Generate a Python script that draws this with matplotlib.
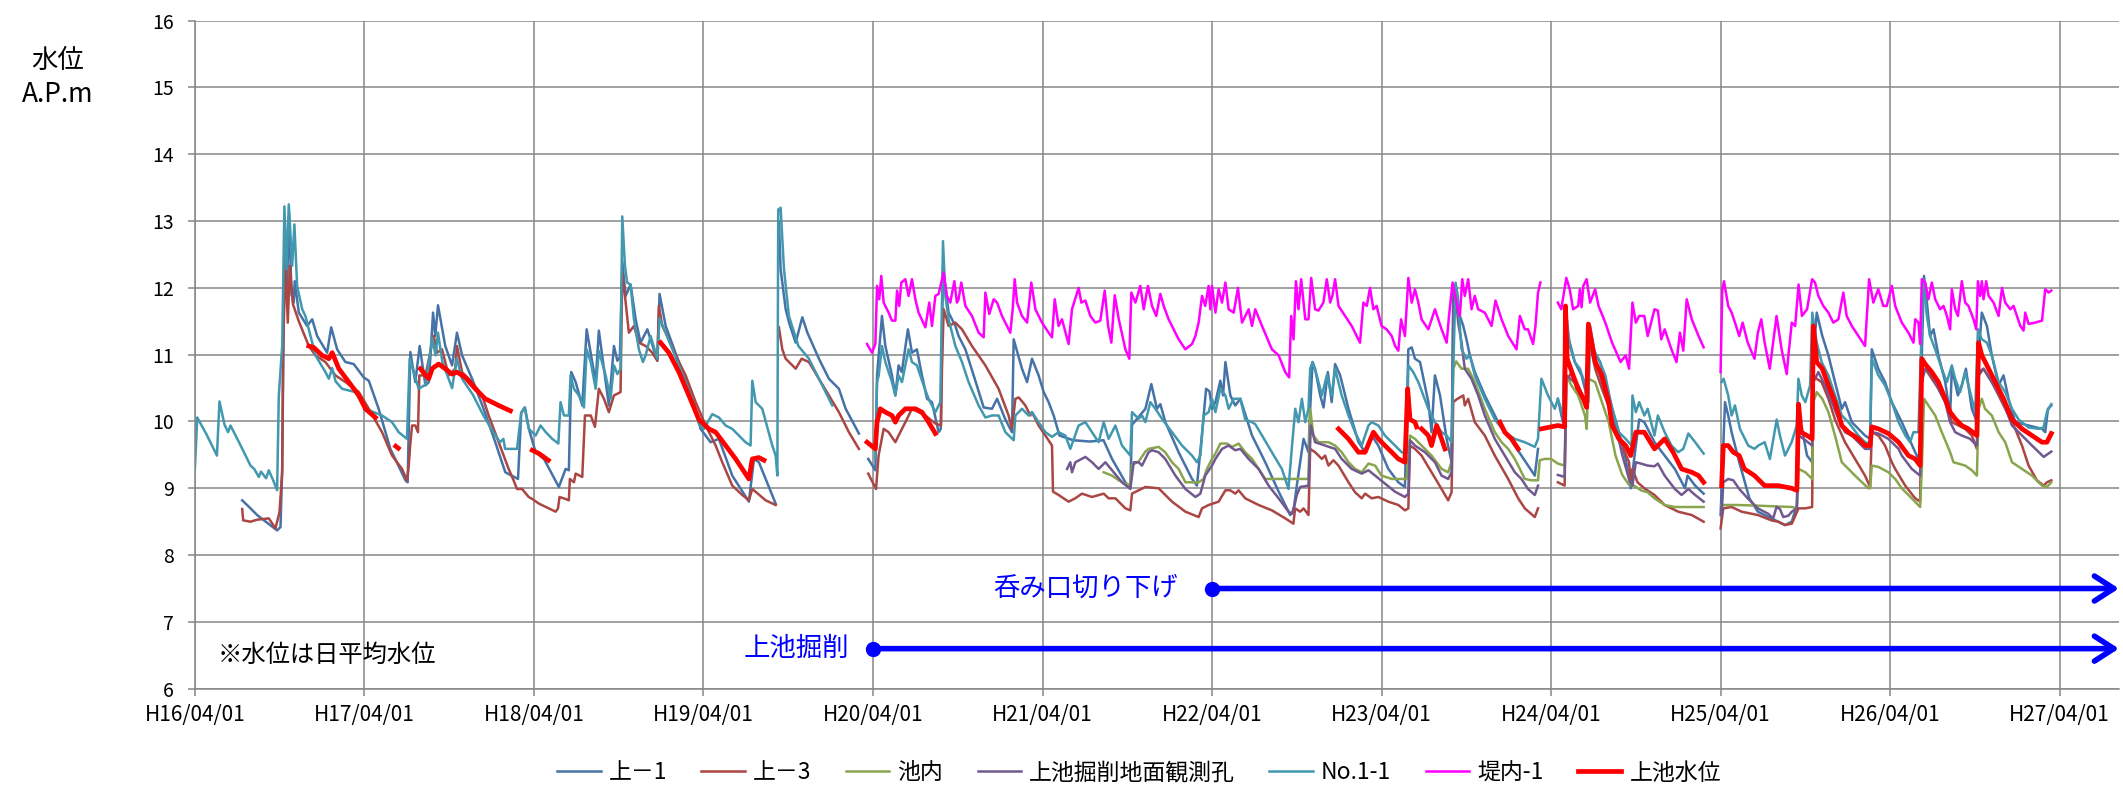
import numpy as np
import matplotlib
matplotlib.use('Agg')
import matplotlib.pyplot as plt
from matplotlib import rcParams

rcParams['font.family'] = ['Noto Sans CJK JP', 'DejaVu Sans']
rcParams['axes.unicode_minus'] = False

# time = years since H16/04/01, value = water level (A.P.m); None = gap
year_labels = ['H16/04/01', 'H17/04/01', 'H18/04/01', 'H19/04/01', 'H20/04/01', 'H21/04/01',
               'H22/04/01', 'H23/04/01', 'H24/04/01', 'H25/04/01', 'H26/04/01', 'H27/04/01']

jo1 = [(0.279, 8.82), (0.328, 8.70), (0.367, 8.60), (0.485, 8.37), (0.505, 8.42), (0.515, 9.30),
       (0.522, 11.0), (0.53, 13.0), (0.542, 11.9), (0.556, 13.1), (0.57, 11.9), (0.583, 11.78),
       (0.589, 12.10), (0.613, 11.63), (0.662, 11.43), (0.692, 11.53), (0.721, 11.28), (0.78, 11.03),
       (0.804, 11.41), (0.839, 11.08), (0.888, 10.89), (0.937, 10.86), (0.996, 10.66), (1.026, 10.61),
       (1.084, 10.19), (1.153, 9.59), (1.242, 9.12), (1.255, 9.09), (1.271, 11.04), (1.30, 10.59),
       (1.326, 11.13), (1.36, 10.54), (1.38, 10.59), (1.405, 11.63), (1.418, 11.28), (1.434, 11.74),
       (1.477, 11.13), (1.517, 10.84), (1.546, 11.33), (1.576, 10.99), (1.635, 10.64), (1.703, 10.19),
       (1.772, 9.69), (1.831, 9.24), (1.906, 9.14), (1.925, 10.13), (1.947, 10.21), (1.97, 9.89),
       (2.01, 9.54), (2.059, 9.44), (2.147, 9.02), (2.187, 9.29), (2.206, 9.27), (2.22, 10.74),
       (2.246, 10.59), (2.285, 10.24), (2.311, 11.38), (2.364, 10.59), (2.383, 11.36), (2.442, 10.24),
       (2.472, 11.13), (2.492, 10.91), (2.507, 10.96), (2.521, 12.4), (2.541, 11.88), (2.57, 12.05),
       (2.60, 11.53), (2.629, 11.18), (2.669, 11.38), (2.728, 10.91), (2.741, 11.91), (2.777, 11.43),
       (2.855, 10.89), (2.934, 10.39), (2.983, 9.89), (3.042, 9.69), (3.091, 9.74), (3.17, 9.19),
       (3.268, 8.80), (3.298, 9.44), (3.327, 9.39), (3.426, 8.77), None,
       (3.445, 13.0), (3.455, 12.28), (3.485, 11.68), (3.505, 11.48), (3.544, 11.18), (3.583, 11.56),
       (3.613, 11.33), (3.681, 10.94), (3.74, 10.64), (3.799, 10.49), (3.839, 10.19), (3.917, 9.82), None,
       (3.972, 9.44), (4.014, 9.27), (4.024, 10.69), (4.053, 11.58), (4.073, 11.13), (4.112, 10.69),
       (4.132, 10.39), (4.151, 10.84), (4.17, 10.74), (4.206, 11.38), (4.23, 11.03), (4.259, 11.08),
       (4.289, 10.69), (4.319, 10.34), (4.348, 10.29), (4.387, 9.84), (4.40, 9.89), (4.413, 12.3),
       (4.446, 11.63), (4.486, 11.43), (4.505, 11.28), (4.545, 11.08), (4.594, 10.69), (4.653, 10.21),
       (4.702, 10.19), (4.732, 10.34), (4.781, 10.03), (4.82, 9.84), (4.83, 11.23), (4.879, 10.79),
       (4.909, 10.59), (4.938, 10.94), (4.977, 10.69), (5.007, 10.44), (5.036, 10.29), (5.066, 10.09),
       (5.10, 9.79), (5.18, 9.72), (5.28, 9.70), (5.36, 9.72), (5.41, 9.44), (5.489, 9.09),
       (5.518, 9.00), (5.528, 9.95), (5.607, 10.19), (5.642, 10.56), (5.675, 10.19), (5.695, 10.26),
       (5.725, 9.99), (5.803, 9.54), (5.882, 9.14), (5.911, 9.04), (5.94, 9.79), (5.965, 10.49),
       (5.985, 10.45), (6.0, 10.19), (6.02, 10.29), (6.049, 10.61), (6.065, 10.39), (6.079, 10.89),
       (6.108, 10.39), (6.137, 10.24), (6.167, 10.34), (6.236, 9.79), (6.314, 9.39), (6.393, 8.95),
       (6.461, 8.60), (6.48, 8.65), (6.50, 9.04), (6.54, 9.74), (6.569, 9.54), (6.579, 10.2),
       (6.593, 10.89), (6.608, 10.79), (6.638, 10.39), (6.658, 10.21), (6.683, 10.74), (6.706, 10.29),
       (6.726, 10.86), (6.756, 10.69), (6.805, 10.19), (6.864, 9.69), (6.903, 9.54), (6.942, 9.79),
       (6.981, 9.64), (7.04, 9.29), (7.099, 9.09), (7.138, 9.02), (7.158, 11.08), (7.178, 11.11),
       (7.197, 10.94), (7.227, 10.89), (7.276, 10.29), (7.295, 9.84), (7.315, 10.69), (7.345, 10.39),
       (7.384, 9.74), (7.413, 9.39), (7.423, 12.05), (7.442, 12.0), (7.462, 11.58), (7.482, 11.43),
       (7.501, 11.23), (7.521, 10.99), (7.55, 10.74), (7.609, 10.39), (7.688, 9.99), (7.747, 9.79),
       (7.825, 9.49), (7.904, 9.19), (7.923, 9.59), None,
       (8.04, 10.34), (8.07, 9.99), (8.085, 11.68), (8.10, 11.28), (8.14, 10.89), (8.18, 10.69),
       (8.22, 10.29), (8.23, 11.43), (8.26, 10.99), (8.29, 10.89), (8.34, 10.39), (8.40, 9.84),
       (8.44, 9.44), (8.47, 9.00), (8.49, 9.44), (8.52, 10.03), (8.55, 9.99), (8.61, 9.69),
       (8.67, 9.49), (8.73, 9.29), (8.79, 9.00), (8.805, 9.19), (8.85, 9.04), (8.90, 8.92), None,
       (9.0, 8.60), (9.026, 10.29), (9.045, 10.09), (9.065, 9.84), (9.11, 9.39), (9.17, 8.85),
       (9.22, 8.65), (9.30, 8.55), (9.34, 8.50), (9.38, 8.45), (9.42, 8.50), (9.45, 8.75),
       (9.46, 9.79), (9.48, 9.89), (9.51, 9.49), (9.54, 9.39), (9.547, 10.94), (9.567, 11.63),
       (9.60, 11.28), (9.636, 10.99), (9.675, 10.59), (9.715, 10.19), (9.734, 10.29), (9.774, 9.99),
       (9.852, 9.79), (9.882, 9.74), (9.892, 11.08), (9.93, 10.79), (9.97, 10.59), (10.01, 10.29),
       (10.069, 9.99), (10.148, 9.54), (10.177, 9.39), (10.187, 10.99), (10.20, 12.18), (10.217, 11.78),
       (10.236, 11.28), (10.256, 11.38), (10.285, 10.99), (10.325, 10.59), (10.354, 10.09), (10.364, 10.79),
       (10.40, 10.39), (10.423, 10.54), (10.447, 10.79), (10.482, 10.19), (10.512, 9.99), (10.522, 11.0),
       (10.541, 11.63), (10.571, 11.43), (10.60, 10.99), (10.64, 10.54), (10.669, 10.69), (10.699, 10.34),
       (10.738, 9.99), (10.817, 9.94), (10.896, 9.89), (10.915, 9.84), (10.931, 10.19), (10.951, 10.24)]

jo3 = [(0.279, 8.69), (0.285, 8.52), (0.328, 8.50), (0.367, 8.53), (0.436, 8.55), (0.475, 8.40),
       (0.499, 8.64), (0.515, 9.24), (0.52, 11.03), (0.534, 12.45), (0.548, 11.48), (0.56, 12.33),
       (0.578, 11.76), (0.613, 11.5), (0.672, 11.13), (0.711, 10.99), (0.77, 10.89), (0.829, 10.69),
       (0.888, 10.59), (0.967, 10.44), (1.026, 10.19), (1.104, 9.84), (1.163, 9.49), (1.222, 9.29),
       (1.251, 9.12), (1.26, 9.29), (1.27, 9.64), (1.281, 9.94), (1.30, 9.94), (1.316, 9.84),
       (1.324, 10.69), (1.36, 10.69), (1.409, 11.28), (1.428, 11.03), (1.458, 11.08), (1.497, 10.69),
       (1.536, 10.79), (1.546, 11.13), (1.576, 10.74), (1.635, 10.59), (1.694, 10.39), (1.733, 10.09),
       (1.792, 9.69), (1.851, 9.29), (1.88, 9.12), (1.90, 8.99), (1.93, 8.99), (1.969, 8.87),
       (1.99, 8.84), (2.03, 8.77), (2.088, 8.70), (2.128, 8.65), (2.142, 8.70), (2.151, 8.87),
       (2.187, 8.84), (2.206, 8.82), (2.212, 9.14), (2.236, 9.09), (2.246, 9.22), (2.285, 9.17),
       (2.301, 10.09), (2.335, 10.09), (2.36, 9.92), (2.383, 10.49), (2.413, 10.34), (2.442, 10.14),
       (2.472, 10.39), (2.511, 10.44), (2.521, 12.23), (2.537, 11.88), (2.56, 11.33), (2.59, 11.43),
       (2.619, 11.18), (2.659, 11.13), (2.698, 11.03), (2.728, 10.91), (2.737, 11.73), (2.757, 11.43),
       (2.777, 11.33), (2.836, 10.99), (2.895, 10.69), (2.954, 10.29), (3.013, 9.94), (3.072, 9.64),
       (3.111, 9.39), (3.17, 9.04), (3.229, 8.90), (3.268, 8.82), (3.288, 8.99), (3.33, 8.90),
       (3.367, 8.82), (3.426, 8.75), None,
       (3.445, 11.41), (3.465, 11.08), (3.485, 10.94), (3.544, 10.79), (3.579, 10.94), (3.622, 10.89),
       (3.681, 10.64), (3.74, 10.39), (3.799, 10.14), (3.858, 9.84), (3.917, 9.59), None,
       (3.972, 9.22), (4.018, 8.99), (4.033, 9.49), (4.063, 9.89), (4.092, 9.84), (4.132, 9.69),
       (4.151, 9.79), (4.191, 9.99), (4.23, 10.19), (4.309, 10.09), (4.368, 9.97), (4.401, 9.94),
       (4.407, 10.79), (4.417, 11.68), (4.446, 11.43), (4.486, 11.48), (4.525, 11.38), (4.584, 11.13),
       (4.663, 10.84), (4.741, 10.49), (4.80, 10.09), (4.82, 9.89), (4.84, 10.34), (4.86, 10.36),
       (4.899, 10.24), (4.928, 10.09), (4.938, 10.14), (4.977, 9.94), (5.017, 9.79), (5.056, 9.64),
       (5.062, 8.95), (5.095, 8.90), (5.154, 8.80), (5.193, 8.85), (5.233, 8.92), (5.292, 8.87),
       (5.361, 8.92), (5.39, 8.85), (5.43, 8.85), (5.489, 8.70), (5.518, 8.67), (5.528, 8.92),
       (5.567, 8.97), (5.607, 9.02), (5.685, 9.00), (5.764, 8.80), (5.843, 8.65), (5.921, 8.57),
       (5.941, 8.70), (5.98, 8.75), (6.039, 8.80), (6.079, 8.97), (6.108, 8.97), (6.137, 8.92),
       (6.157, 8.97), (6.196, 8.85), (6.275, 8.75), (6.353, 8.67), (6.432, 8.55), (6.48, 8.47),
       (6.49, 8.70), (6.52, 8.65), (6.54, 8.70), (6.569, 8.60), (6.579, 9.59), (6.608, 9.54),
       (6.648, 9.44), (6.667, 9.49), (6.687, 9.34), (6.716, 9.42), (6.746, 9.34), (6.805, 9.09),
       (6.844, 8.94), (6.883, 8.85), (6.903, 8.92), (6.942, 8.85), (6.981, 8.87), (7.04, 8.80),
       (7.099, 8.75), (7.138, 8.67), (7.158, 8.70), (7.168, 9.64), (7.197, 9.59), (7.236, 9.49),
       (7.295, 9.24), (7.354, 8.99), (7.393, 8.82), (7.413, 8.94), (7.423, 10.29), (7.442, 10.33),
       (7.482, 10.39), (7.491, 10.24), (7.511, 10.34), (7.55, 9.99), (7.609, 9.79), (7.668, 9.49),
       (7.747, 9.14), (7.806, 8.85), (7.845, 8.70), (7.904, 8.57), (7.923, 8.70), None,
       (8.04, 9.09), (8.08, 9.04), (8.09, 10.59), (8.12, 10.74), (8.15, 10.49), (8.21, 10.29),
       (8.225, 11.23), (8.26, 10.79), (8.30, 10.49), (8.36, 10.09), (8.42, 9.64), (8.46, 9.39),
       (8.47, 9.09), (8.48, 9.29), (8.51, 9.09), (8.55, 9.00), (8.61, 8.90), (8.67, 8.75),
       (8.75, 8.65), (8.83, 8.60), (8.90, 8.50), None,
       (9.0, 8.40), (9.016, 8.70), (9.065, 8.72), (9.124, 8.65), (9.22, 8.60), (9.30, 8.52),
       (9.34, 8.50), (9.38, 8.45), (9.42, 8.47), (9.46, 8.70), (9.50, 8.70), (9.54, 8.72),
       (9.547, 10.69), (9.567, 10.64), (9.596, 10.59), (9.636, 10.34), (9.675, 10.03), (9.734, 9.69),
       (9.793, 9.44), (9.852, 9.19), (9.882, 9.02), (9.892, 9.84), (9.931, 9.79), (9.97, 9.64),
       (10.01, 9.39), (10.03, 9.29), (10.089, 9.04), (10.148, 8.85), (10.177, 8.80), (10.187, 10.69),
       (10.207, 10.79), (10.246, 10.64), (10.285, 10.49), (10.325, 10.29), (10.364, 9.99), (10.403, 9.94),
       (10.443, 9.89), (10.482, 9.79), (10.512, 9.59), (10.522, 10.74), (10.551, 10.79), (10.60, 10.59),
       (10.64, 10.39), (10.679, 10.19), (10.738, 9.89), (10.778, 9.64), (10.817, 9.34), (10.866, 9.12),
       (10.906, 9.04), (10.925, 9.09), (10.951, 9.12)]

ikenai = [(5.361, 9.24), (5.41, 9.19), (5.45, 9.12), (5.489, 9.07), (5.518, 9.05), (5.528, 9.35),
          (5.567, 9.40), (5.607, 9.55), (5.626, 9.59), (5.685, 9.62), (5.724, 9.54), (5.764, 9.39),
          (5.803, 9.29), (5.843, 9.09), (5.882, 9.09), (5.921, 9.09), (5.95, 9.14), (5.97, 9.29),
          (6.0, 9.44), (6.02, 9.52), (6.049, 9.67), (6.088, 9.67), (6.118, 9.62), (6.157, 9.67),
          (6.196, 9.54), (6.236, 9.44), (6.275, 9.29), (6.314, 9.14), (6.373, 9.14), (6.471, 9.14),
          (6.569, 9.14), (6.579, 10.19), (6.598, 9.79), (6.628, 9.69), (6.687, 9.69), (6.726, 9.64),
          (6.765, 9.54), (6.805, 9.39), (6.844, 9.29), (6.883, 9.24), (6.923, 9.37), (6.962, 9.34),
          (7.0, 9.19), (7.06, 9.14), (7.148, 9.14), (7.168, 9.79), (7.197, 9.74), (7.236, 9.64),
          (7.295, 9.49), (7.354, 9.29), (7.393, 9.24), (7.413, 9.39), (7.423, 10.79), (7.44, 10.9),
          (7.472, 10.79), (7.511, 10.79), (7.55, 10.59), (7.609, 10.19), (7.668, 9.84), (7.708, 9.69),
          (7.747, 9.59), (7.786, 9.44), (7.816, 9.29), (7.845, 9.14), (7.884, 9.12), (7.923, 9.12),
          (7.933, 9.42), (7.962, 9.44), (8.0, 9.44), (8.04, 9.37), (8.08, 9.34), (8.09, 10.69),
          (8.12, 10.54), (8.16, 10.39), (8.20, 10.09), (8.21, 9.89), (8.22, 10.64), (8.26, 10.59),
          (8.30, 10.29), (8.34, 9.99), (8.38, 9.49), (8.42, 9.2), (8.46, 9.05), (8.49, 9.04),
          (8.53, 8.97), (8.57, 8.94), (8.61, 8.85), (8.67, 8.75), (8.73, 8.72), (8.79, 8.72),
          (8.90, 8.72), None,
          (9.006, 8.75), (9.1, 8.75), (9.22, 8.74), (9.32, 8.73), (9.42, 8.72), (9.45, 8.70),
          (9.46, 9.29), (9.50, 9.24), (9.54, 9.14), (9.547, 10.29), (9.567, 10.44), (9.60, 10.34),
          (9.636, 10.14), (9.675, 9.79), (9.715, 9.39), (9.754, 9.29), (9.813, 9.14), (9.872, 9.0),
          (9.882, 9.0), (9.892, 9.34), (9.931, 9.32), (9.99, 9.24), (10.03, 9.14), (10.069, 9.0),
          (10.128, 8.85), (10.177, 8.72), (10.187, 9.29), (10.20, 10.34), (10.226, 10.24), (10.266, 10.09),
          (10.305, 9.84), (10.354, 9.54), (10.374, 9.39), (10.443, 9.34), (10.482, 9.27), (10.512, 9.19),
          (10.522, 10.19), (10.541, 10.34), (10.56, 10.19), (10.60, 10.09), (10.64, 9.84), (10.679, 9.69),
          (10.719, 9.39), (10.778, 9.29), (10.837, 9.19), (10.896, 9.04), (10.925, 9.02), (10.951, 9.09)]

kussaku = [(5.145, 9.29), (5.164, 9.39), (5.174, 9.24), (5.194, 9.39), (5.253, 9.47), (5.292, 9.39),
           (5.331, 9.29), (5.371, 9.39), (5.41, 9.27), (5.469, 9.09), (5.518, 8.99), (5.538, 9.39),
           (5.567, 9.39), (5.587, 9.34), (5.626, 9.54), (5.646, 9.57), (5.685, 9.54), (5.724, 9.44),
           (5.784, 9.19), (5.843, 8.99), (5.902, 8.87), (5.931, 8.92), (5.96, 9.19), (6.0, 9.34),
           (6.02, 9.44), (6.059, 9.59), (6.098, 9.64), (6.137, 9.57), (6.167, 9.59), (6.216, 9.44),
           (6.275, 9.29), (6.334, 9.04), (6.393, 8.85), (6.451, 8.65), (6.471, 8.62), (6.487, 8.75),
           (6.50, 8.90), (6.52, 9.02), (6.569, 9.04), (6.583, 9.94), (6.608, 9.69), (6.667, 9.64),
           (6.726, 9.59), (6.765, 9.44), (6.824, 9.29), (6.883, 9.22), (6.923, 9.27), (6.962, 9.19),
           (7.02, 9.07), (7.079, 8.95), (7.138, 8.87), (7.158, 8.92), (7.168, 9.72), (7.197, 9.64),
           (7.256, 9.54), (7.315, 9.39), (7.354, 9.19), (7.393, 9.14), (7.413, 9.24), (7.423, 11.48),
           (7.433, 12.03), (7.452, 11.48), (7.472, 11.18), (7.491, 10.79), (7.53, 10.64), (7.57, 10.39),
           (7.609, 10.09), (7.668, 9.74), (7.727, 9.49), (7.786, 9.24), (7.825, 9.14), (7.864, 8.99),
           (7.904, 8.90), (7.923, 9.04), None,
           (8.04, 9.2), (8.08, 9.17), (8.09, 10.69), (8.16, 10.54), (8.21, 10.24), (8.225, 11.28),
           (8.30, 10.59), (8.38, 9.94), (8.42, 9.5), (8.46, 9.14), (8.48, 9.04), (8.50, 9.39),
           (8.53, 9.37), (8.57, 9.34), (8.61, 9.33), (8.63, 9.37), (8.67, 9.19), (8.73, 8.99),
           (8.77, 8.90), (8.81, 8.99), (8.85, 8.90), (8.90, 8.80), None,
           (9.006, 8.60), (9.016, 9.09), (9.045, 9.14), (9.075, 9.12), (9.11, 8.99), (9.16, 8.85),
           (9.22, 8.70), (9.28, 8.62), (9.31, 8.55), (9.33, 8.72), (9.35, 8.69), (9.37, 8.57),
           (9.40, 8.59), (9.42, 8.65), (9.45, 8.70), (9.46, 9.79), (9.49, 9.74), (9.54, 9.64),
           (9.547, 10.59), (9.577, 10.74), (9.616, 10.54), (9.656, 10.29), (9.695, 10.04), (9.734, 9.84),
           (9.774, 9.79), (9.813, 9.69), (9.852, 9.59), (9.882, 9.59), (9.892, 9.84), (9.931, 9.82),
           (9.99, 9.74), (10.05, 9.59), (10.069, 9.49), (10.128, 9.29), (10.177, 9.19), (10.187, 10.59),
           (10.207, 10.79), (10.246, 10.69), (10.285, 10.49), (10.325, 10.29), (10.354, 9.99), (10.384, 9.84),
           (10.423, 9.79), (10.472, 9.74), (10.512, 9.64), (10.522, 10.69), (10.551, 10.79), (10.60, 10.59),
           (10.66, 10.34), (10.719, 9.94), (10.778, 9.79), (10.837, 9.64), (10.906, 9.47), (10.951, 9.55)]

no11 = [(0.0, 9.30), (0.014, 10.06), (0.07, 9.80), (0.13, 9.49), (0.145, 10.30), (0.175, 9.95),
        (0.196, 9.84), (0.21, 9.94), (0.27, 9.64), (0.328, 9.34), (0.35, 9.29), (0.377, 9.17),
        (0.39, 9.25), (0.42, 9.15), (0.436, 9.27), (0.465, 9.10), (0.485, 8.97), (0.495, 10.39),
        (0.515, 11.13), (0.528, 13.22), (0.54, 12.28), (0.554, 13.25), (0.574, 12.33), (0.587, 12.95),
        (0.603, 12.03), (0.633, 11.68), (0.652, 11.58), (0.711, 10.99), (0.77, 10.74), (0.79, 10.64),
        (0.81, 10.80), (0.83, 10.60), (0.868, 10.49), (0.947, 10.44), (1.006, 10.19), (1.104, 10.09),
        (1.163, 9.99), (1.202, 9.84), (1.251, 9.74), (1.267, 10.94), (1.285, 10.79), (1.32, 10.49),
        (1.36, 10.55), (1.40, 11.25), (1.42, 10.99), (1.434, 11.33), (1.46, 10.89), (1.517, 10.50),
        (1.545, 10.94), (1.576, 10.64), (1.64, 10.40), (1.70, 10.10), (1.76, 9.84), (1.80, 9.69),
        (1.82, 9.74), (1.83, 9.59), (1.90, 9.59), (1.925, 10.13), (1.945, 10.21), (1.97, 9.89),
        (2.01, 9.79), (2.039, 9.94), (2.07, 9.84), (2.108, 9.74), (2.144, 9.67), (2.157, 10.29),
        (2.177, 10.09), (2.206, 10.09), (2.216, 10.69), (2.236, 10.49), (2.265, 10.39), (2.295, 10.21),
        (2.311, 11.08), (2.335, 10.89), (2.364, 10.49), (2.383, 11.06), (2.423, 10.69), (2.452, 10.34),
        (2.472, 10.84), (2.492, 10.71), (2.511, 10.79), (2.521, 13.07), (2.537, 12.33), (2.55, 12.08),
        (2.57, 12.05), (2.59, 11.53), (2.619, 11.08), (2.643, 10.89), (2.659, 10.99), (2.688, 11.28),
        (2.728, 10.94), (2.741, 11.55), (2.777, 11.33), (2.855, 10.84), (2.934, 10.34), (2.973, 9.96),
        (3.003, 9.89), (3.052, 10.11), (3.091, 10.06), (3.131, 9.94), (3.17, 9.89), (3.209, 9.79),
        (3.248, 9.69), (3.278, 9.64), (3.288, 10.61), (3.308, 10.29), (3.347, 10.19), (3.406, 9.64),
        (3.426, 9.49), (3.436, 9.19), (3.441, 13.17), (3.455, 13.2), (3.475, 12.28), (3.504, 11.58),
        (3.56, 11.13), (3.622, 10.94), (3.681, 10.64), (3.74, 10.34), (3.76, 10.24), None,
        (4.014, 9.45), (4.024, 10.59), (4.034, 10.69), (4.053, 11.13), (4.073, 10.89), (4.112, 10.59),
        (4.132, 10.39), (4.151, 10.69), (4.171, 10.59), (4.21, 11.08), (4.23, 10.89), (4.259, 10.84),
        (4.299, 10.54), (4.328, 10.34), (4.368, 10.14), (4.397, 10.29), (4.413, 12.70), (4.427, 11.88),
        (4.446, 11.53), (4.486, 11.13), (4.525, 10.89), (4.564, 10.59), (4.623, 10.24), (4.663, 10.06),
        (4.702, 10.09), (4.741, 10.09), (4.781, 9.84), (4.83, 9.72), (4.84, 10.09), (4.879, 10.19),
        (4.918, 10.09), (4.938, 10.14), (4.977, 9.99), (5.017, 9.84), (5.056, 9.77), (5.095, 9.84),
        (5.135, 9.79), (5.164, 9.59), (5.213, 9.94), (5.253, 9.99), (5.292, 9.84), (5.331, 9.69),
        (5.361, 9.99), (5.39, 9.74), (5.43, 9.94), (5.469, 9.64), (5.518, 9.49), (5.528, 10.14),
        (5.567, 10.04), (5.587, 10.09), (5.607, 9.99), (5.636, 10.29), (5.666, 10.19), (5.705, 10.04),
        (5.764, 9.84), (5.823, 9.64), (5.882, 9.49), (5.911, 9.39), (5.931, 9.49), (5.951, 10.09),
        (5.98, 10.14), (6.0, 10.34), (6.02, 10.14), (6.049, 10.49), (6.079, 10.39), (6.098, 10.19),
        (6.128, 10.34), (6.167, 10.34), (6.196, 10.03), (6.236, 9.99), (6.255, 9.96), (6.295, 9.79),
        (6.353, 9.54), (6.412, 9.29), (6.451, 8.99), (6.467, 9.49), (6.491, 10.19), (6.51, 9.99),
        (6.53, 10.34), (6.55, 9.99), (6.569, 10.19), (6.579, 10.79), (6.593, 10.89), (6.618, 10.69),
        (6.648, 10.39), (6.677, 10.69), (6.706, 10.39), (6.726, 10.79), (6.765, 10.39), (6.805, 10.09),
        (6.844, 9.84), (6.883, 9.64), (6.923, 9.94), (6.942, 9.99), (6.981, 9.94), (7.02, 9.79),
        (7.079, 9.64), (7.119, 9.54), (7.148, 9.52), (7.158, 10.84), (7.187, 10.74), (7.217, 10.59),
        (7.276, 10.19), (7.315, 9.99), (7.354, 9.84), (7.384, 9.79), (7.413, 9.69), (7.423, 10.79),
        (7.437, 12.08), (7.452, 11.78), (7.472, 11.08), (7.501, 10.94), (7.521, 10.99), (7.55, 10.69),
        (7.609, 10.34), (7.668, 10.03), (7.727, 9.84), (7.786, 9.74), (7.845, 9.69), (7.904, 9.62),
        (7.923, 9.74), (7.943, 10.64), (7.982, 10.39), (8.022, 10.19), (8.04, 10.34), (8.07, 10.09),
        (8.085, 11.73), (8.11, 11.13), (8.14, 10.89), (8.17, 10.79), (8.19, 10.64), (8.22, 10.49),
        (8.23, 11.38), (8.25, 11.08), (8.28, 10.94), (8.32, 10.69), (8.36, 10.19), (8.40, 9.84),
        (8.44, 9.74), (8.475, 9.64), (8.48, 10.39), (8.50, 10.14), (8.52, 10.29), (8.55, 10.09),
        (8.57, 10.19), (8.61, 9.79), (8.63, 10.09), (8.67, 9.84), (8.71, 9.64), (8.75, 9.54),
        (8.78, 9.59), (8.81, 9.82), (8.85, 9.69), (8.90, 9.52), None,
        (9.006, 10.59), (9.018, 10.64), (9.045, 10.39), (9.065, 10.09), (9.085, 10.24), (9.114, 9.89),
        (9.163, 9.64), (9.20, 9.59), (9.222, 9.64), (9.26, 9.69), (9.291, 9.44), (9.331, 10.03),
        (9.35, 9.79), (9.38, 9.49), (9.419, 9.69), (9.449, 9.94), (9.459, 10.64), (9.479, 10.39),
        (9.50, 10.29), (9.528, 10.54), (9.541, 11.63), (9.567, 11.18), (9.596, 10.89), (9.636, 10.69),
        (9.675, 10.39), (9.715, 10.09), (9.754, 9.99), (9.813, 9.79), (9.852, 9.69), (9.882, 9.67),
        (9.892, 10.94), (9.931, 10.69), (9.97, 10.54), (10.01, 10.29), (10.05, 9.99), (10.09, 9.79),
        (10.118, 9.69), (10.138, 9.84), (10.167, 9.84), (10.181, 10.99), (10.197, 12.13), (10.217, 11.58),
        (10.236, 11.28), (10.266, 11.08), (10.305, 10.79), (10.335, 10.59), (10.364, 10.84), (10.384, 10.64),
        (10.413, 10.44), (10.443, 10.74), (10.472, 10.44), (10.502, 10.14), (10.518, 11.38), (10.541, 11.23),
        (10.571, 11.18), (10.60, 10.99), (10.64, 10.59), (10.679, 10.44), (10.719, 10.19), (10.758, 10.03),
        (10.817, 9.91), (10.876, 9.89), (10.905, 9.91), (10.925, 10.14), (10.951, 10.26)]

teinai = [(3.965, 11.16), (3.994, 11.03), (4.014, 11.16), (4.024, 12.03), (4.037, 11.83), (4.049, 12.18),
          (4.063, 11.78), (4.092, 11.63), (4.112, 11.51), (4.132, 11.51), (4.142, 11.96), (4.155, 11.73),
          (4.167, 12.08), (4.191, 12.13), (4.21, 11.88), (4.23, 12.13), (4.25, 11.83), (4.269, 11.63),
          (4.309, 11.41), (4.332, 11.78), (4.348, 11.43), (4.368, 11.88), (4.387, 11.91), (4.417, 12.23),
          (4.436, 11.88), (4.456, 11.78), (4.48, 12.10), (4.495, 11.78), (4.505, 11.83), (4.521, 12.08),
          (4.545, 11.73), (4.584, 11.58), (4.623, 11.33), (4.653, 11.26), (4.663, 11.93), (4.686, 11.61),
          (4.712, 11.83), (4.732, 11.78), (4.761, 11.58), (4.81, 11.33), (4.824, 11.68), (4.836, 12.13),
          (4.85, 11.78), (4.879, 11.58), (4.909, 11.48), (4.934, 12.08), (4.958, 11.68), (4.997, 11.48),
          (5.036, 11.33), (5.056, 11.26), (5.072, 11.83), (5.095, 11.43), (5.115, 11.53), (5.154, 11.16),
          (5.174, 11.68), (5.213, 12.0), (5.229, 11.78), (5.253, 11.81), (5.282, 11.58), (5.312, 11.48),
          (5.341, 11.51), (5.367, 11.96), (5.387, 11.43), (5.406, 11.18), (5.426, 11.89), (5.45, 11.53),
          (5.489, 11.08), (5.512, 10.94), (5.524, 11.93), (5.548, 11.78), (5.577, 12.03), (5.597, 11.68),
          (5.622, 12.03), (5.646, 11.73), (5.671, 11.58), (5.695, 11.91), (5.715, 11.73), (5.744, 11.53),
          (5.803, 11.23), (5.843, 11.08), (5.882, 11.16), (5.902, 11.28), (5.921, 11.48), (5.941, 11.88),
          (5.96, 11.73), (5.98, 12.03), (5.99, 11.68), (6.0, 12.03), (6.02, 11.63), (6.039, 11.98),
          (6.059, 11.78), (6.079, 12.08), (6.098, 11.68), (6.128, 11.63), (6.153, 12.0), (6.177, 11.48),
          (6.216, 11.68), (6.236, 11.43), (6.255, 11.68), (6.295, 11.43), (6.353, 11.08), (6.393, 10.99),
          (6.432, 10.74), (6.455, 10.66), (6.467, 11.58), (6.481, 11.23), (6.495, 12.10), (6.51, 11.68),
          (6.526, 12.13), (6.55, 11.53), (6.569, 11.53), (6.585, 12.15), (6.608, 11.68), (6.628, 11.66),
          (6.657, 11.78), (6.677, 12.13), (6.697, 11.78), (6.71, 11.88), (6.726, 12.13), (6.746, 11.73),
          (6.785, 11.58), (6.824, 11.43), (6.873, 11.18), (6.893, 11.78), (6.913, 11.73), (6.932, 12.0),
          (6.952, 11.68), (6.971, 11.73), (7.0, 11.43), (7.03, 11.38), (7.06, 11.28), (7.08, 11.13),
          (7.099, 11.06), (7.115, 11.53), (7.138, 11.28), (7.158, 12.15), (7.178, 11.78), (7.197, 11.98),
          (7.217, 11.78), (7.236, 11.53), (7.276, 11.38), (7.315, 11.68), (7.354, 11.38), (7.384, 11.18),
          (7.398, 11.58), (7.419, 12.08), (7.442, 11.78), (7.462, 11.58), (7.476, 12.13), (7.491, 11.88),
          (7.511, 12.13), (7.531, 11.68), (7.55, 11.88), (7.57, 11.68), (7.609, 11.63), (7.629, 11.53),
          (7.649, 11.43), (7.672, 11.81), (7.708, 11.53), (7.747, 11.28), (7.796, 11.08), (7.816, 11.58),
          (7.845, 11.38), (7.864, 11.38), (7.894, 11.16), (7.908, 11.43), (7.923, 11.93), (7.937, 12.08), None,
          (8.04, 11.78), (8.06, 11.68), (8.09, 12.15), (8.11, 11.98), (8.13, 11.68), (8.16, 11.73),
          (8.17, 11.98), (8.18, 11.71), (8.19, 12.03), (8.21, 12.13), (8.23, 11.78), (8.26, 11.98),
          (8.28, 11.73), (8.32, 11.48), (8.36, 11.18), (8.41, 10.89), (8.44, 10.99), (8.46, 10.79),
          (8.48, 11.78), (8.50, 11.48), (8.52, 11.58), (8.55, 11.58), (8.57, 11.28), (8.61, 11.68),
          (8.63, 11.66), (8.65, 11.23), (8.67, 11.38), (8.71, 11.08), (8.74, 10.89), (8.76, 11.33),
          (8.78, 11.06), (8.80, 11.83), (8.83, 11.53), (8.87, 11.28), (8.90, 11.11), None,
          (9.0, 10.74), (9.01, 11.98), (9.02, 12.10), (9.045, 11.73), (9.065, 11.63), (9.085, 11.48),
          (9.11, 11.28), (9.13, 11.48), (9.16, 11.18), (9.20, 10.94), (9.22, 11.33), (9.24, 11.53),
          (9.26, 11.18), (9.29, 10.79), (9.31, 11.18), (9.33, 11.58), (9.36, 11.08), (9.39, 10.71),
          (9.40, 10.99), (9.42, 11.48), (9.44, 11.43), (9.46, 12.05), (9.48, 11.58), (9.51, 11.68),
          (9.53, 11.98), (9.54, 12.13), (9.557, 12.08), (9.577, 11.88), (9.606, 11.73), (9.636, 11.63),
          (9.665, 11.48), (9.695, 11.53), (9.724, 11.93), (9.744, 11.58), (9.774, 11.43), (9.813, 11.28),
          (9.852, 11.13), (9.876, 12.13), (9.901, 11.78), (9.93, 11.98), (9.96, 11.73), (9.98, 11.73),
          (10.01, 12.03), (10.03, 11.73), (10.069, 11.48), (10.108, 11.33), (10.138, 11.18), (10.148, 11.53),
          (10.167, 11.48), (10.177, 11.16), (10.187, 12.13), (10.207, 12.08), (10.226, 11.83), (10.246, 12.08),
          (10.266, 11.83), (10.295, 11.68), (10.315, 11.73), (10.335, 11.58), (10.354, 11.38), (10.364, 11.98),
          (10.384, 11.68), (10.40, 11.58), (10.423, 12.10), (10.443, 11.78), (10.462, 11.73), (10.492, 11.53),
          (10.508, 11.38), (10.518, 12.10), (10.531, 11.88), (10.541, 12.10), (10.551, 11.83), (10.567, 12.10),
          (10.581, 11.88), (10.61, 11.78), (10.64, 11.58), (10.66, 12.0), (10.679, 11.78), (10.709, 11.68),
          (10.728, 11.73), (10.748, 11.58), (10.768, 11.43), (10.787, 11.36), (10.797, 11.63), (10.817, 11.46),
          (10.856, 11.48), (10.896, 11.51), (10.915, 11.98), (10.935, 11.93), (10.951, 11.96)]

jouchi = [(0.672, 11.13), (0.70, 11.11), (0.75, 10.99), (0.79, 10.94), (0.81, 11.03), (0.849, 10.79),
          (0.908, 10.59), (0.967, 10.39), (1.006, 10.19), (1.065, 10.06), None,
          (1.185, 9.63), (1.20, 9.60), None,
          (1.33, 10.79), (1.379, 10.64), (1.40, 10.79), (1.409, 10.81), (1.438, 10.86), (1.477, 10.79),
          (1.517, 10.71), (1.546, 10.74), (1.595, 10.66), (1.654, 10.49), (1.713, 10.34), (1.792, 10.24),
          (1.861, 10.16), None,
          (1.99, 9.57), (2.03, 9.52), (2.085, 9.42), None,
          (2.747, 11.18), (2.796, 11.03), (2.855, 10.74), (2.914, 10.39), (2.973, 10.03), (3.032, 9.89),
          (3.072, 9.84), (3.131, 9.64), (3.19, 9.44), (3.268, 9.14), (3.288, 9.44), (3.327, 9.46),
          (3.357, 9.42), None,
          (3.965, 9.69), (4.014, 9.59), (4.024, 9.99), (4.043, 10.19), (4.073, 10.14), (4.112, 10.09),
          (4.132, 9.99), (4.151, 10.09), (4.191, 10.19), (4.25, 10.19), (4.289, 10.14), (4.328, 9.99),
          (4.368, 9.82), None,
          (6.746, 9.89), (6.805, 9.74), (6.864, 9.54), (6.903, 9.54), (6.952, 9.84), (6.981, 9.74),
          (7.02, 9.64), (7.06, 9.54), (7.099, 9.44), (7.138, 9.39), (7.154, 10.49), (7.168, 10.03),
          (7.197, 9.99), (7.207, 9.92), None,
          (7.236, 9.89), (7.276, 9.79), (7.295, 9.64), (7.325, 9.94), (7.354, 9.74), (7.374, 9.59), None,
          (7.698, 9.99), (7.727, 9.84), (7.767, 9.74), (7.806, 9.59), None,
          (7.943, 9.89), (8.0, 9.92), (8.04, 9.94), (8.08, 9.92), (8.085, 11.73), (8.095, 10.94),
          (8.13, 10.69), (8.16, 10.49), (8.19, 10.34), (8.21, 10.21), (8.22, 11.46), (8.26, 10.89),
          (8.30, 10.69), (8.34, 10.29), (8.36, 9.94), (8.40, 9.74), (8.44, 9.64), (8.47, 9.49),
          (8.50, 9.84), (8.55, 9.84), (8.61, 9.59), (8.67, 9.74), (8.72, 9.54), (8.77, 9.29),
          (8.83, 9.24), (8.87, 9.19), (8.90, 9.09), None,
          (9.006, 9.04), (9.016, 9.64), (9.045, 9.64), (9.075, 9.54), (9.11, 9.49), (9.14, 9.29),
          (9.20, 9.19), (9.26, 9.04), (9.34, 9.04), (9.42, 9.0), (9.45, 8.97), (9.46, 10.26),
          (9.475, 9.84), (9.51, 9.79), (9.54, 9.74), (9.547, 11.43), (9.567, 10.89), (9.60, 10.79),
          (9.636, 10.54), (9.675, 10.29), (9.715, 9.94), (9.754, 9.84), (9.813, 9.74), (9.852, 9.64),
          (9.882, 9.64), (9.892, 9.92), (9.931, 9.89), (9.99, 9.82), (10.05, 9.69), (10.108, 9.49),
          (10.148, 9.44), (10.177, 9.34), (10.187, 10.94), (10.207, 10.86), (10.246, 10.74), (10.285, 10.59),
          (10.325, 10.34), (10.354, 10.14), (10.384, 10.04), (10.423, 9.94), (10.462, 9.89), (10.512, 9.79),
          (10.522, 11.18), (10.541, 10.99), (10.581, 10.79), (10.62, 10.59), (10.669, 10.34), (10.719, 10.03),
          (10.778, 9.89), (10.837, 9.79), (10.896, 9.69), (10.925, 9.69), (10.951, 9.82)]

series = [('上－1', jo1, '#4572A7', 1.8),
          ('上－3', jo3, '#AA4643', 1.8),
          ('池内', ikenai, '#89A54E', 1.8),
          ('上池掘削地面観測孔', kussaku, '#71588F', 1.8),
          ('No.1-1', no11, '#4198AF', 1.8),
          ('堤内-1', teinai, '#FF00FF', 1.8),
          ('上池水位', jouchi, '#FF0000', 3.4)]


def to_xy(pts):
    x = np.array([np.nan if p is None else p[0] for p in pts])
    y = np.array([np.nan if p is None else p[1] for p in pts])
    return x, y


fig = plt.figure(figsize=(21.23, 7.89), dpi=100)
ax = fig.add_axes([0.0918, 0.1271, 0.9063, 0.8467])

for name, pts, col, lw in series:
    x, y = to_xy(pts)
    ax.plot(x, y, color=col, lw=lw, label=name, solid_joinstyle='round')

ax.set_xlim(0, 11.35)
ax.set_ylim(6, 16)
ax.set_yticks(range(6, 17))
ax.set_xticks(range(len(year_labels)))
ax.set_xticklabels(year_labels)
ax.grid(True, color='#868686', lw=1.1)
ax.set_axisbelow(True)
for s in ['top', 'right']:
    ax.spines[s].set_visible(False)
for s in ['left', 'bottom']:
    ax.spines[s].set_color('#868686')
    ax.spines[s].set_linewidth(1.1)
ax.tick_params(axis='both', direction='out', length=5, width=1.1, color='#868686')
ax.tick_params(axis='x', labelsize=15, pad=6)
ax.tick_params(axis='y', labelsize=14, pad=10)

# annotations
blue = '#0000FF'
ax.annotate('', xy=(11.35, 7.5), xytext=(6, 7.5), annotation_clip=False,
            arrowprops=dict(arrowstyle='->,head_length=0.7,head_width=0.45', color=blue,
                            lw=4, shrinkA=0, shrinkB=0, mutation_scale=20))
ax.plot([6], [7.5], 'o', color=blue, ms=10, clip_on=False)
ax.text(5.8, 7.5, '呑み口切り下げ', color=blue, fontsize=19, ha='right', va='center')

ax.annotate('', xy=(11.35, 6.6), xytext=(4, 6.6), annotation_clip=False,
            arrowprops=dict(arrowstyle='->,head_length=0.7,head_width=0.45', color=blue,
                            lw=4, shrinkA=0, shrinkB=0, mutation_scale=20))
ax.plot([4], [6.6], 'o', color=blue, ms=10, clip_on=False)
ax.text(3.86, 6.6, '上池掘削', color=blue, fontsize=19, ha='right', va='center')

ax.text(0.136, 6.5, '※水位は日平均水位', color='black', fontsize=17.5, ha='left', va='center')

fig.text(58 / 2123, 1 - 60 / 789, '水位', fontsize=19, ha='center', va='center')
fig.text(58 / 2123, 1 - 95 / 789, 'A.P.m', fontsize=19, ha='center', va='center')

ax.legend(loc='center', bbox_to_anchor=(0.5365, 0.0203), bbox_transform=fig.transFigure,
          ncol=7, frameon=False, fontsize=16.5, handlelength=1.9, handletextpad=0.35,
          columnspacing=1.5)

fig.savefig('out.png', dpi=100)
